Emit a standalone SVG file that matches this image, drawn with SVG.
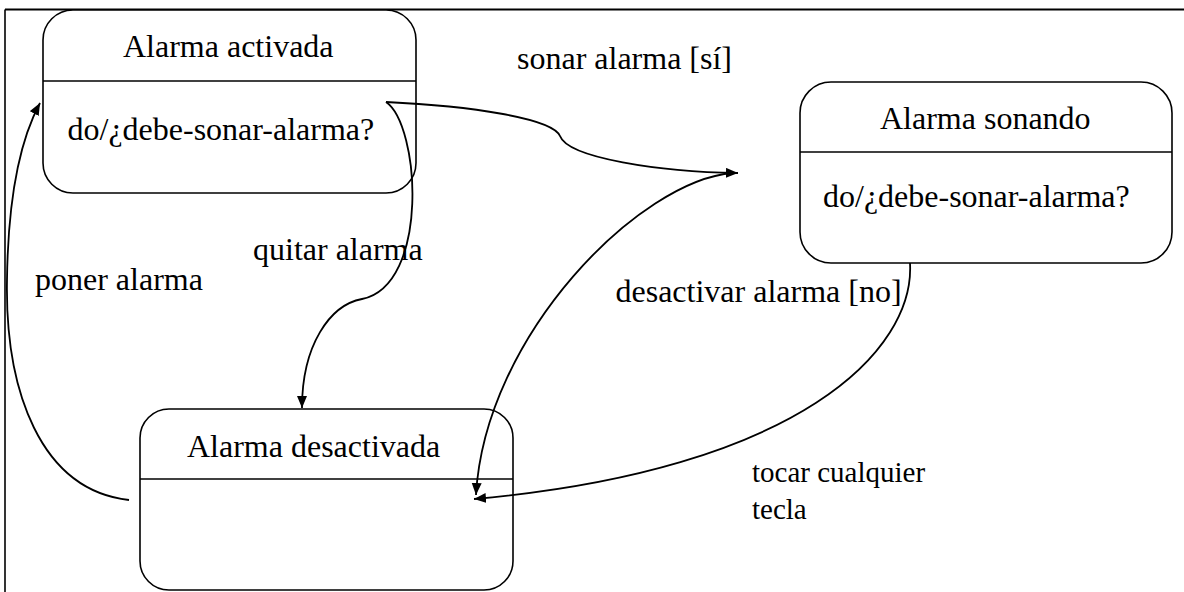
<svg xmlns="http://www.w3.org/2000/svg" width="1184" height="592" viewBox="0 0 1184 592">
<style>
.box{fill:#fff;stroke:#000;stroke-width:1.6}
.div{stroke:#000;stroke-width:1.4}
.t{font-family:"Liberation Serif","Times New Roman",serif;font-size:32px;fill:#000}
.s{font-family:"Liberation Serif","Times New Roman",serif;font-size:29px;fill:#000}
.c{fill:none;stroke:#000;stroke-width:1.8}
</style>
<defs>
<marker id="ah" markerUnits="userSpaceOnUse" markerWidth="13" markerHeight="11" refX="12" refY="5" orient="auto">
<path d="M0,0 L12,5 L0,10 z" fill="#000"/>
</marker>
</defs>
<rect width="1184" height="592" fill="#fff"/>
<g id="frame">
<line x1="5" y1="9.5" x2="1184" y2="9.5" stroke="#000" stroke-width="1.8"/>
<line x1="5" y1="9.5" x2="5" y2="592" stroke="#000" stroke-width="1.6"/>
</g>
<g id="node-activada">
<rect class="box" x="43" y="10" width="373" height="183" rx="30" ry="30"/>
<line class="div" x1="43" y1="81" x2="416" y2="81"/>
<text class="t" x="123" y="57">Alarma activada</text>
<text class="t" x="67.5" y="139.5">do/¿debe-sonar-alarma?</text>
</g>
<g id="node-sonando">
<rect class="box" x="800" y="82" width="372" height="181" rx="31" ry="31"/>
<line class="div" x1="800" y1="152" x2="1172" y2="152"/>
<text class="t" x="880" y="128.5">Alarma sonando</text>
<text class="t" x="823" y="207">do/¿debe-sonar-alarma?</text>
</g>
<g id="node-desactivada">
<rect class="box" x="140" y="409" width="373" height="181" rx="29" ry="29"/>
<line class="div" x1="140" y1="479" x2="513" y2="479"/>
<text class="t" x="187" y="456.5">Alarma desactivada</text>
</g>
<g id="connectors">
<path class="c" marker-end="url(#ah)" d="M386,102 C470,106 552,118 560,136 C568,158 660,172 738,173"/>
<path class="c" marker-end="url(#ah)" d="M733,173 C640,180 485,335 476,495"/>
<path class="c" marker-end="url(#ah)" d="M910,263 C915,350 800,470 474,499"/>
<path class="c" marker-end="url(#ah)" d="M386,102 C420,125 430,285 362,299 C330,305 302,345 302,408"/>
<path class="c" marker-end="url(#ah)" d="M129,500 C40,490 5,390 7,280 C8,200 20,140 40,103"/>
</g>
<g id="labels">
<text class="t" x="517" y="69">sonar alarma [sí]</text>
<text class="t" x="253" y="260">quitar alarma</text>
<text class="t" x="35" y="289.5">poner alarma</text>
<text class="t" x="615.5" y="302">desactivar alarma [no]</text>
<text class="s" x="752" y="482">tocar cualquier</text>
<text class="s" x="752" y="518.5">tecla</text>
</g>
</svg>
